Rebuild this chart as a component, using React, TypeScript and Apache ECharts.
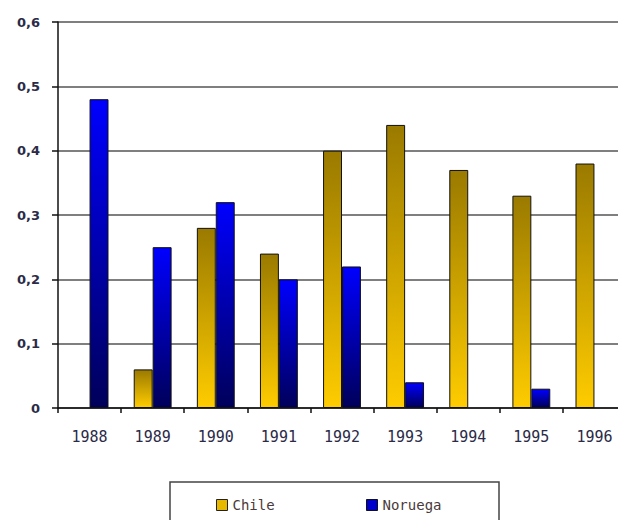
import React, { useEffect, useRef } from "react";
import * as echarts from "echarts";

const years = ["1988", "1989", "1990", "1991", "1992", "1993", "1994", "1995", "1996"];
const chile = [null, 0.06, 0.28, 0.24, 0.4, 0.44, 0.37, 0.33, 0.38];
const noruega = [0.48, 0.25, 0.32, 0.2, 0.22, 0.04, null, 0.03, null];

const textColor = "#2b2b48";

export default function App() {
  const ref = useRef<HTMLDivElement>(null);
  useEffect(() => {
    if (!ref.current) return;
    const chart = echarts.init(ref.current, null, { renderer: "svg" });
    const chileGrad = new echarts.graphic.LinearGradient(0, 0, 0, 1, [
      { offset: 0, color: "#9a7a00" },
      { offset: 1, color: "#ffcc00" },
    ]);
    const norGrad = new echarts.graphic.LinearGradient(0, 0, 0, 1, [
      { offset: 0, color: "#0000ff" },
      { offset: 1, color: "#00005a" },
    ]);
    chart.setOption({
      animation: false,
      grid: { left: 58, top: 22, width: 568, height: 386 },
      xAxis: {
        type: "category",
        data: years,
        axisLine: { lineStyle: { color: "#111", width: 1.5 } },
        axisTick: { show: true, length: 5, lineStyle: { color: "#111", width: 1.5 } },
        axisLabel: {
          margin: 21,
          color: textColor,
          fontFamily: "DejaVu Sans Mono",
          fontSize: 15,
        },
      },
      yAxis: {
        type: "value",
        min: 0,
        max: 0.6,
        interval: 0.1,
        axisLine: { show: true, lineStyle: { color: "#111", width: 1.5 } },
        axisTick: { show: true, length: 6, lineStyle: { color: "#111", width: 1.5 } },
        splitLine: { lineStyle: { color: "#555", width: 1.5 } },
        axisLabel: {
          margin: 18,
          color: textColor,
          fontFamily: "DejaVu Sans",
          fontWeight: "bold",
          fontSize: 13,
          formatter: (v: number) => (v === 0 ? "0" : v.toFixed(1).replace(".", ",")),
        },
      },
      legend: [
        {
          data: [{ name: "Chile", icon: "rect", itemStyle: { color: "#e6b800", borderColor: "#222", borderWidth: 1 } }],
          left: 211,
          top: 493,
          itemWidth: 11,
          itemHeight: 11,
          itemGap: 6,
          textStyle: { color: "#4a3a3a", fontFamily: "DejaVu Sans Mono", fontSize: 14 },
        },
        {
          data: [{ name: "Noruega", icon: "rect", itemStyle: { color: "#0000cc", borderColor: "#111", borderWidth: 1 } }],
          left: 361,
          top: 493,
          itemWidth: 11,
          itemHeight: 11,
          itemGap: 6,
          textStyle: { color: "#4a3a3a", fontFamily: "DejaVu Sans Mono", fontSize: 14 },
        },
      ],
      graphic: [
        {
          type: "rect",
          shape: { x: 170, y: 482, width: 329, height: 60 },
          style: { fill: "none", stroke: "#444", lineWidth: 1.5 },
          silent: true,
        },
      ],
      series: [
        {
          name: "Chile",
          type: "bar",
          data: chile,
          barGap: "0%",
          barCategoryGap: "40%",
          itemStyle: { color: chileGrad, borderColor: "#111", borderWidth: 1 },
        },
        {
          name: "Noruega",
          type: "bar",
          data: noruega,
          barGap: "0%",
          barCategoryGap: "40%",
          itemStyle: { color: norGrad, borderColor: "#111", borderWidth: 1 },
        },
      ],
    });
    return () => chart.dispose();
  }, []);
  return (
    <div
      style={{
        position: "fixed",
        left: 0,
        top: 0,
        width: 618,
        height: 520,
        overflow: "hidden",
        background: "#fff",
      }}
    >
      <div ref={ref} style={{ width: 640, height: 520 }} />
    </div>
  );
}
